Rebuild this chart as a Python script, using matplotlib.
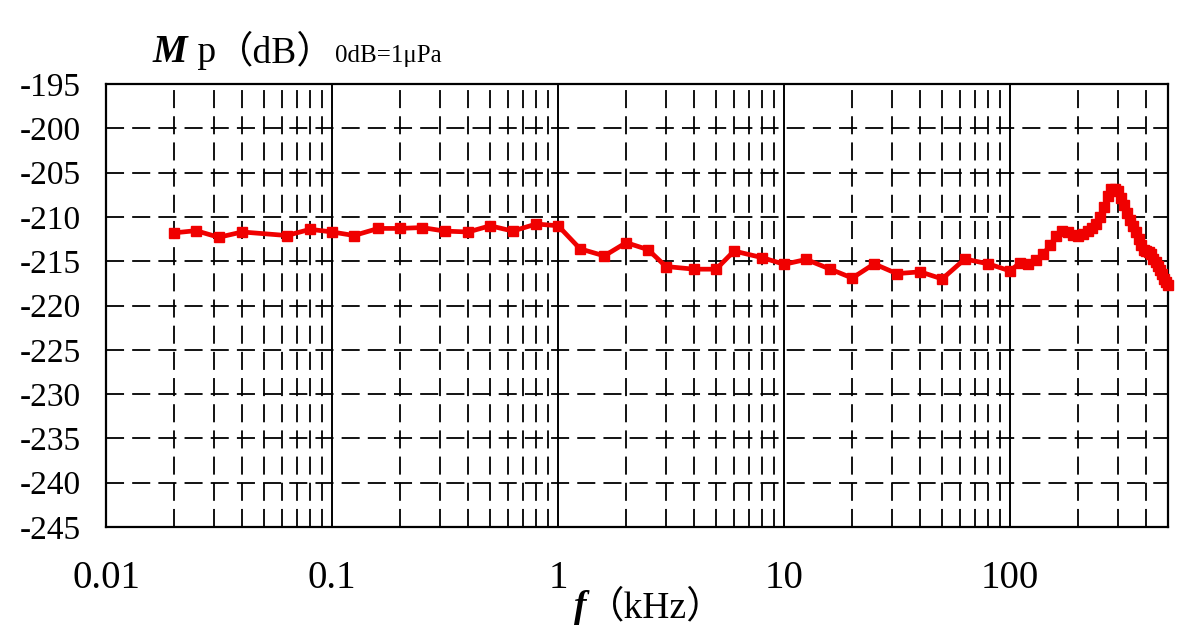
#!/usr/bin/env python3
import numpy as np
import matplotlib
matplotlib.use('agg')
import matplotlib.pyplot as plt

# frequencies in kHz and sensitivity Mp in dB (0dB = 1 uPa)
freq_low = [0.02, 0.025, 0.0315, 0.04, 0.063, 0.08, 0.1, 0.125, 0.16, 0.2,
            0.25, 0.315, 0.4, 0.5, 0.63, 0.8, 1.0, 1.25, 1.6, 2.0,
            2.5, 3.0, 4.0, 5.0, 6.0, 8.0, 10, 12.5, 16, 20,
            25, 31.5, 40, 50, 63, 80]
mp_low = [-211.8, -211.55, -212.3, -211.7, -212.1, -211.4, -211.7, -212.1, -211.3, -211.3,
          -211.2, -211.6, -211.7, -211.0, -211.6, -210.8, -211.0, -213.6, -214.4, -212.9,
          -213.7, -215.6, -215.9, -215.9, -213.85, -214.6, -215.35, -214.8, -215.9, -216.9,
          -215.3, -216.4, -216.2, -217.0, -214.75, -215.3]

freq_high = [100, 110, 120, 130, 140, 150, 160, 170, 180, 190,
             200, 210, 220, 230, 240, 250, 260, 270, 280, 290,
             300, 310, 320, 330, 340, 350, 360, 370, 380, 390,
             400, 410, 420, 430, 440, 450, 460, 470, 480, 490, 500]
mp_high = [-216.1, -215.2, -215.3, -214.9, -214.2, -213.2, -212.1, -211.6, -211.7, -212.0,
           -212.2, -211.9, -211.6, -211.3, -210.8, -210.0, -208.9, -207.6, -206.9, -206.8,
           -207.1, -207.9, -208.7, -209.6, -210.3, -211.0, -211.7, -212.5, -213.2, -213.7,
           -213.9, -214.0, -214.2, -214.7, -215.1, -215.5, -216.0, -216.5, -217.0, -217.4, -217.7]

xticks = [0.01, 0.1, 1, 10, 100]
xlabels = ['0.01', '0.1', '1', '10', '100']
yticks = list(range(-245, -194, 5))

FONT = ['Liberation Serif', 'Noto Sans CJK SC', 'DejaVu Sans']


def main():
    plt.rcParams['font.family'] = FONT
    fig = plt.figure(figsize=(11.81, 6.39), dpi=100)
    ax = fig.add_axes([0.0898, 0.1753, 0.8994, 0.6932])

    ax.set_xscale('log')
    ax.set_xlim(0.01, 500)
    ax.set_ylim(-245, -195)

    dash = (0, (10, 4.5))
    # vertical grid: solid at decades, dashed at 2..9
    for dec in [0.01, 0.1, 1, 10, 100]:
        for k in range(1, 10):
            f = dec * k
            if f >= 500 or f <= 0.01:
                continue
            if k == 1:
                ax.axvline(f, color='black', lw=1.4, zorder=1)
            else:
                ax.axvline(f, color='black', lw=1.3, ls=dash, zorder=1)
    for y in yticks[1:-1]:
        ax.axhline(y, color='black', lw=1.3, ls=dash, zorder=1)

    f_all = freq_low + freq_high
    m_all = mp_low + mp_high
    ax.plot(f_all, m_all, color='#f00000', lw=3.4, marker='s', ms=6.5,
            mec='#f00000', mfc='#f00000', zorder=3, clip_on=False)

    ax.set_xticks(xticks)
    ax.set_xticklabels(xlabels)
    ax.xaxis.set_minor_locator(matplotlib.ticker.NullLocator())
    ax.set_yticks(yticks)
    ax.set_yticklabels([str(v) for v in yticks])
    ax.tick_params(axis='both', length=0)
    ax.tick_params(axis='y', labelsize=24, pad=18)
    ax.tick_params(axis='x', labelsize=28, pad=24)
    for s in ax.spines.values():
        s.set_linewidth(1.6)

    # y label on top, built from pieces
    fig.canvas.draw()
    r = fig.canvas.get_renderer()
    base_y = 1 - 62 / 639.0
    pieces = [('M', 28, 'bold', 'italic'),
              (' p', 27, 'normal', 'normal'),
              ('（dB）', 27, 'normal', 'normal'),
              ('0dB=1μPa', 18, 'normal', 'normal')]
    x = 153 / 1181.0
    for txt, size, wt, st in pieces:
        t = fig.text(x, base_y, txt, fontsize=size, fontweight=wt, fontstyle=st,
                     va='baseline', ha='left', family=FONT)
        bb = t.get_window_extent(r)
        x = bb.x1 / fig.bbox.width

    # x label: f (kHz)
    parts = [('f', 'bold', 'italic'), ('（kHz）', 'normal', 'normal')]
    x = 574 / 1181.0
    for txt, wt, st in parts:
        t = fig.text(x, 1 - 617 / 639.0, txt, fontsize=27, fontweight=wt,
                     fontstyle=st, va='baseline', family=FONT)
        x = t.get_window_extent(r).x1 / fig.bbox.width

    fig.savefig('out.png', dpi=100)


if __name__ == '__main__':
    main()
